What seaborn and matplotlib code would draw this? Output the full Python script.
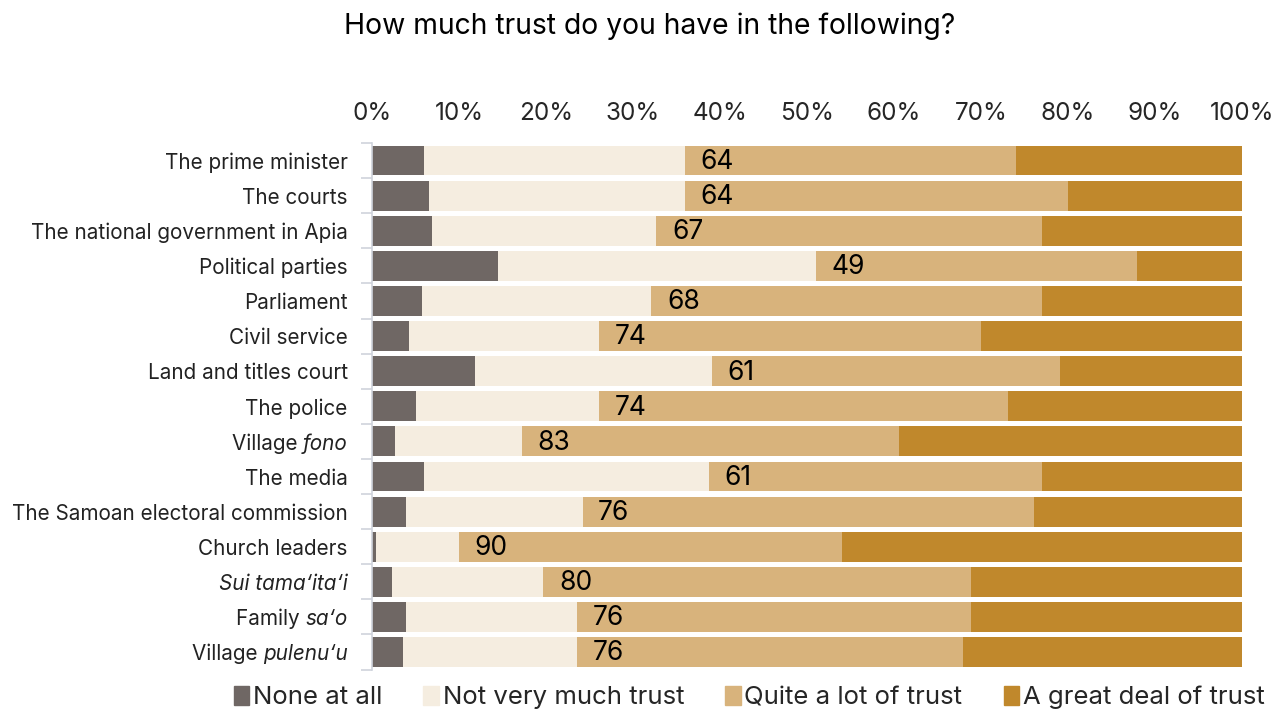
import matplotlib
matplotlib.use("Agg")
import matplotlib.pyplot as plt
import matplotlib.patches as mpatches
import matplotlib.transforms as mtransforms
from matplotlib.offsetbox import TextArea, HPacker, AnnotationBbox
import seaborn as sns
import pandas as pd
import numpy as np

# ---- data ----
categories = [
    "The prime minister", "The courts", "The national government in Apia",
    "Political parties", "Parliament", "Civil service", "Land and titles court",
    "The police", "Village fono", "The media", "The Samoan electoral commission",
    "Church leaders", "Sui tama‘ita‘i", "Family sa‘o", "Village pulenu‘u",
]
# label pieces: (text, italic?)
label_parts = [
    [("The prime minister", False)], [("The courts", False)],
    [("The national government in Apia", False)], [("Political parties", False)],
    [("Parliament", False)], [("Civil service", False)],
    [("Land and titles court", False)], [("The police", False)],
    [("Village ", False), ("fono", True)], [("The media", False)],
    [("The Samoan electoral commission", False)], [("Church leaders", False)],
    [("Sui tama‘ita‘i", True)], [("Family ", False), ("sa‘o", True)],
    [("Village ", False), ("pulenu‘u", True)],
]
none_at_all = [6.0, 6.6, 6.9, 14.5, 5.7, 4.2, 11.8, 5.1, 2.6, 6.0, 3.9, 0.5, 2.3, 3.9, 3.6]
not_very    = [30.0, 29.4, 25.8, 36.5, 26.4, 21.9, 27.3, 21.0, 14.6, 32.7, 20.3, 9.5, 17.4, 19.7, 20.0]
quite_a_lot = [38.0, 44.0, 44.3, 36.9, 44.9, 43.9, 40.0, 47.0, 43.4, 38.3, 51.9, 44.0, 49.2, 45.3, 44.3]
great_deal  = [26.0, 20.0, 23.0, 12.1, 23.0, 30.0, 20.9, 26.9, 39.4, 23.0, 23.9, 46.0, 31.1, 31.1, 32.1]

series_names = ["None at all", "Not very much trust", "Quite a lot of trust", "A great deal of trust"]
colors = ["#6f6764", "#f5ede0", "#d8b37c", "#c0882c"]
xtick_vals = [0, 10, 20, 30, 40, 50, 60, 70, 80, 90, 100]
xtick_labels = [f"{v}%" for v in xtick_vals]
title = "How much trust do you have in the following?"

FONT = "Inter"

df = pd.DataFrame({"cat": categories, "none": none_at_all, "not": not_very,
                   "quite": quite_a_lot, "great": great_deal})
df["c1"] = df["none"]
df["c2"] = df["c1"] + df["not"]
df["c3"] = df["c2"] + df["quite"]
df["c4"] = df["c3"] + df["great"]

sns.set_theme(style="white")
plt.rcParams["font.family"] = [FONT, "DejaVu Sans"]

fig = plt.figure(figsize=(12.87, 7.11), dpi=100)
ax = fig.add_axes([372 / 1287, 1 - 669.6 / 711, 870 / 1287, 526.6 / 711])

for col, c in zip(["c4", "c3", "c2", "c1"], colors[::-1]):
    sns.barplot(data=df, x=col, y="cat", orient="h", color=c, width=0.85,
                saturation=1, ax=ax, linewidth=0, order=categories)

# value labels (quite + great)
for i, (c2, q, g) in enumerate(zip(df["c2"], df["quite"], df["great"])):
    ax.text(c2 + 1.8, i + 0.04, f"{round(q + g)}", ha="left", va="center",
            fontsize=19, color="black")

ax.set_xlim(0, 100)
ax.set_ylim(len(categories) - 0.5, -0.5)
ax.xaxis.tick_top()
ax.set_xticks(xtick_vals)
ax.set_xticklabels(xtick_labels, fontsize=17.5)
ax.tick_params(axis="x", length=0, pad=13)
ax.set_xlabel("")
ax.set_ylabel("")
ax.set_yticks(np.arange(-0.5, len(categories), 1.0))
ax.set_yticklabels([])
ax.tick_params(axis="y", length=8, color="#cfd3dc", width=1.2, left=True)
for s in ["top", "right", "bottom"]:
    ax.spines[s].set_visible(False)
ax.spines["left"].set_color("#cfd3dc")
ax.spines["left"].set_linewidth(1.2)

# category labels with mixed italics
trans = mtransforms.blended_transform_factory(ax.transAxes, ax.transData)
for i, parts in enumerate(label_parts):
    boxes = [TextArea(t, textprops=dict(fontsize=14.9, color="#222222",
                                        fontstyle="italic" if it else "normal",
                                        family=[FONT, "DejaVu Sans"]))
             for t, it in parts]
    pack = HPacker(children=boxes, pad=0, sep=0, align="baseline")
    ab = AnnotationBbox(pack, (-0.028, i + 0.06), xycoords=trans, box_alignment=(1, 0.5),
                        frameon=False, pad=0, annotation_clip=False)
    ax.add_artist(ab)

fig.text(0.505, 0.963, title, ha="center", va="center", fontsize=20.4, color="black")

handles = [mpatches.Patch(color=c, label=n) for c, n in zip(colors, series_names)]
fig.legend(handles=handles, loc="center", bbox_to_anchor=(0.582, 0.019), ncol=4,
           frameon=False, fontsize=18.5, handlelength=0.6, handleheight=0.8,
           handletextpad=0.15, columnspacing=1.6, borderaxespad=0)

fig.savefig("out.png", dpi=100)
